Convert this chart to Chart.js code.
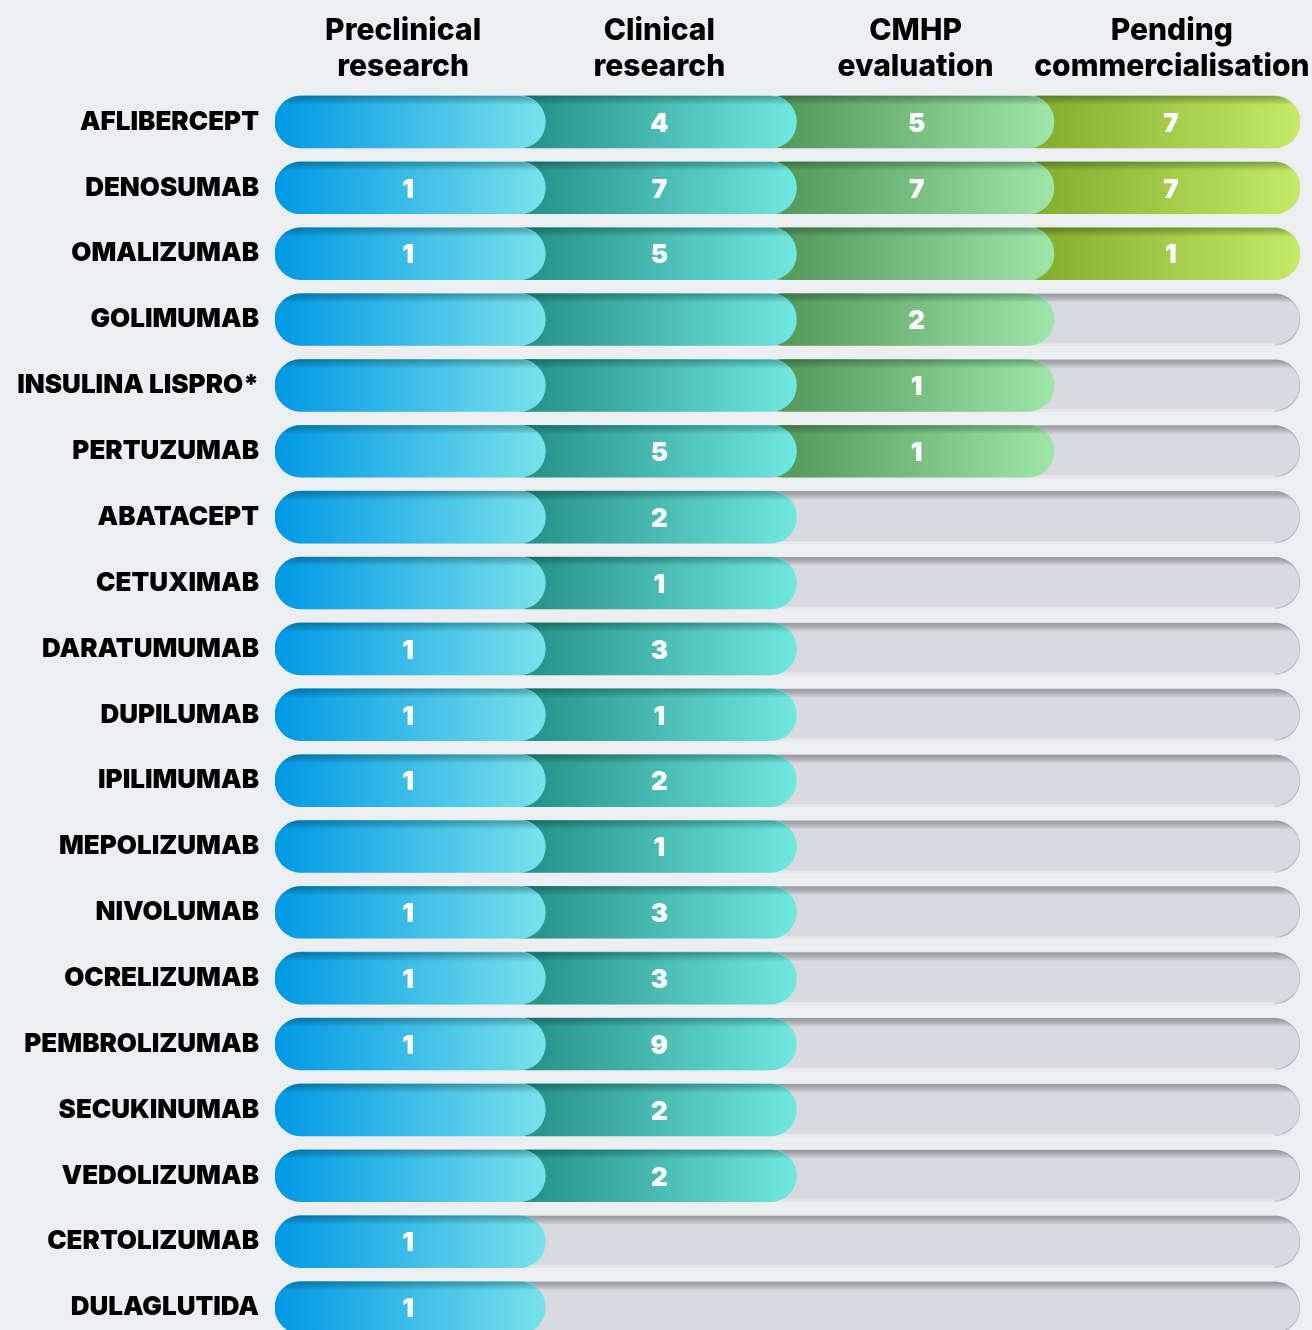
<!DOCTYPE html>
<html>
<head>
<meta charset="utf-8">
<script src="https://cdn.jsdelivr.net/npm/chart.js@4.4.1/dist/chart.umd.min.js"></script>
<style>
html,body{margin:0;padding:0;background:#eceef2;overflow:hidden;}
#wrap{width:1312px;height:1372px;position:relative;}
</style>
</head>
<body>
<div id="wrap"><canvas id="c"></canvas></div>
<script>
// ---- data ----
const drugs = ["AFLIBERCEPT","DENOSUMAB","OMALIZUMAB","GOLIMUMAB","INSULINA LISPRO*","PERTUZUMAB","ABATACEPT","CETUXIMAB","DARATUMUMAB","DUPILUMAB","IPILIMUMAB","MEPOLIZUMAB","NIVOLUMAB","OCRELIZUMAB","PEMBROLIZUMAB","SECUKINUMAB","VEDOLIZUMAB","CERTOLIZUMAB","DULAGLUTIDA"];
const stageHeaders = [["Preclinical","research"],["Clinical","research"],["CMHP","evaluation"],["Pending","commercialisation"]];
// furthest stage reached (1..4)
const stageReached = [4,4,4,3,3,3,2,2,2,2,2,2,2,2,2,2,2,1,1];
// counts shown in each stage (null = no number shown)
const preclinical = [null,1,1,null,null,null,null,null,1,1,1,null,1,1,1,null,null,1,1];
const clinical    = [4,7,5,null,null,5,2,1,3,1,2,1,3,3,9,2,2,null,null];
const cmhp        = [5,7,null,2,1,1,null,null,null,null,null,null,null,null,null,null,null,null,null];
const pending     = [7,7,1,null,null,null,null,null,null,null,null,null,null,null,null,null,null,null,null];
const stageCounts = [preclinical, clinical, cmhp, pending];

// ---- styling ----
const gradStops = [
  ["rgb(0,152,229)","rgb(120,226,234)"],
  ["rgb(38,146,136)","rgb(112,232,224)"],
  ["rgb(86,154,92)","rgb(158,230,168)"],
  ["rgb(134,174,46)","rgb(196,234,102)"]
];
const NSTAGE = 4;
const segOverhang = [0.055, 0.035, 0.04, 0];
const labelShift = [5, 0, 1, -1];

function segRange(s){
  const start = s === 0 ? 0 : s - 0.12;
  const end = s + 1 + segOverhang[s];
  return [start,end];
}

const datasets = [];
for (let s=0; s<NSTAGE; s++){
  datasets.push({
    label: stageHeaders[s].join(" "),
    data: drugs.map((d,i)=> stageReached[i] > s ? segRange(s) : null),
    borderRadius: 100,
    borderSkipped: false,
    borderWidth: 0,
    backgroundColor: (ctx)=>{
      const chart = ctx.chart;
      if (!chart.chartArea || !ctx.raw) return gradStops[s][0];
      const xs = chart.scales.x;
      const x0 = xs.getPixelForValue(s===0?0:s);
      const x1 = xs.getPixelForValue(ctx.raw[1]);
      const g = chart.ctx.createLinearGradient(x0,0,x1,0);
      g.addColorStop(0,gradStops[s][0]);
      g.addColorStop(1,gradStops[s][1]);
      return g;
    }
  });
}
datasets.push({
  label:"track",
  data: drugs.map(()=>[0,NSTAGE]),
  track:true,
  borderRadius:100,
  borderSkipped:false,
  borderWidth:0,
  backgroundColor:"#d9dadf"
});

function roundRectPath(ctx,x0,y0,x1,y1,r){
  ctx.beginPath();
  ctx.moveTo(x0+r,y0);
  ctx.lineTo(x1-r,y0);
  ctx.arc(x1-r,(y0+y1)/2,r,-Math.PI/2,Math.PI/2);
  ctx.lineTo(x0+r,y1);
  ctx.arc(x0+r,(y0+y1)/2,r,Math.PI/2,Math.PI*1.5);
  ctx.closePath();
}

const shadePlugin = {
  id:"shade",
  afterDatasetDraw(chart,args){
    const meta = args.meta;
    const ds = chart.data.datasets[args.index];
    const ctx = chart.ctx;
    meta.data.forEach((el,i)=>{
      if (!ds.data[i]) return;
      const p = el.getProps(["x","y","base","height"],true);
      const x0 = Math.min(p.x,p.base), x1 = Math.max(p.x,p.base);
      const y0 = p.y - p.height/2, y1 = p.y + p.height/2;
      const r = p.height/2;
      ctx.save();
      roundRectPath(ctx,x0,y0,x1,y1,r);
      ctx.clip();
      const g = ctx.createLinearGradient(0,y0,0,y0+9);
      g.addColorStop(0, ds.track ? "rgba(70,70,100,0.45)" : "rgba(0,40,40,0.35)");
      g.addColorStop(1,"rgba(0,0,0,0)");
      ctx.fillStyle = g;
      ctx.fillRect(x0,y0,x1-x0,10);
      if (ds.track){
        ctx.lineWidth = 3;
        ctx.strokeStyle = "rgba(150,150,170,0.7)";
        ctx.beginPath();
        ctx.arc(x1-r+1,(y0+y1)/2,r,-Math.PI/2,Math.PI/2);
        ctx.stroke();
        const gb = ctx.createLinearGradient(0,y1-3,0,y1);
        gb.addColorStop(0,"rgba(255,255,255,0)");
        gb.addColorStop(1,"rgba(255,255,255,0.6)");
        ctx.fillStyle = gb;
        ctx.fillRect(x0,y1-3,x1-x0,3);
      }
      ctx.restore();
    });
  }
};

const countPlugin = {
  id:"counts",
  afterDatasetsDraw(chart){
    const ctx = chart.ctx;
    const xs = chart.scales.x, ys = chart.scales.y;
    ctx.save();
    ctx.fillStyle = "#ffffff";
    ctx.font = "900 26px Inter";
    ctx.textAlign = "center";
    ctx.textBaseline = "middle";
    stageCounts.forEach((arr,s)=>{
      arr.forEach((v,i)=>{
        if (v===null || v===undefined) return;
        ctx.fillText(String(v), xs.getPixelForValue(s+0.5)+labelShift[s], ys.getPixelForValue(i)+2);
      });
    });
    ctx.restore();
  }
};

new Chart(document.getElementById("c"),{
  type:"bar",
  data:{labels:drugs,datasets},
  options:{
    indexAxis:"y",
    responsive:true,
    maintainAspectRatio:false,
    animation:false,
    layout:{padding:{left:0,right:12,top:0,bottom:0}},
    datasets:{bar:{grouped:false,barThickness:52}},
    plugins:{legend:{display:false},tooltip:{enabled:false}},
    scales:{
      x:{
        type:"linear",
        position:"top",
        min:0,max:NSTAGE,
        grid:{display:false,drawTicks:false},
        border:{display:false},
        afterBuildTicks:(sc)=>{ sc.ticks = stageHeaders.map((h,i)=>({value:i+0.5})); },
        afterFit:(sc)=>{ sc.height = 89; sc.paddingRight = 0; sc.paddingLeft = 0; },
        ticks:{
          autoSkip:false,maxRotation:0,minRotation:0,
          padding:4,
          color:"#000",
          font:{family:"Inter",size:30,weight:"800",lineHeight:1.2},
          callback:(v)=>stageHeaders[Math.floor(v)]
        }
      },
      y:{
        type:"category",
        grid:{display:false,drawTicks:false},
        border:{display:false},
        afterFit:(sc)=>{ sc.width = 275; },
        ticks:{
          padding:16,
          color:"#000",
          font:{family:"Inter",size:26,weight:"900"}
        }
      }
    }
  },
  plugins:[shadePlugin,countPlugin]
});
</script>
</body>
</html>
